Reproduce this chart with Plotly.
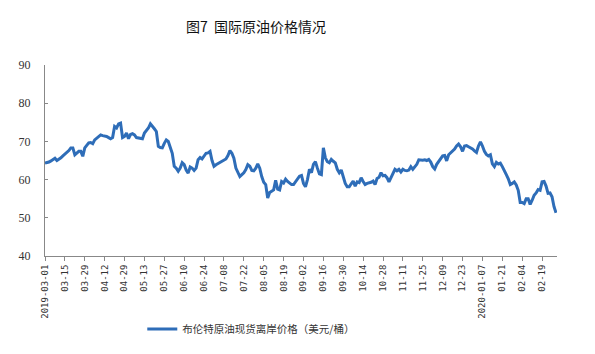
import plotly.graph_objects as go

series_name = "布伦特原油现货离岸价格（美元/桶）"

brent_price = [
    64.3, 64.4, 64.6, 64.9, 65.3, 65.6, 65.0, 65.3, 65.7, 66.2,
    66.6, 67.0, 67.6, 68.3, 68.3, 66.5, 67.0, 67.4, 67.4, 66.1,
    68.3, 69.0, 69.6, 69.7, 69.4, 70.4, 70.8, 71.3, 71.7, 71.5,
    71.4, 71.3, 71.0, 70.7, 71.0, 73.9, 73.5, 74.6, 74.8, 71.0,
    71.3, 72.2, 70.7, 71.8, 72.0, 71.7, 71.0, 70.9, 70.8, 70.7,
    72.2, 72.8, 73.5, 74.6, 73.8, 73.3, 72.6, 68.7, 68.4, 68.3,
    69.5, 70.4, 70.0, 68.5, 66.9, 63.5, 63.0, 62.2, 63.0, 64.4,
    63.9, 62.5, 61.7, 63.3, 63.0, 62.4, 63.0, 65.2, 65.8, 65.4,
    66.2, 66.9, 67.0, 67.4, 65.0, 63.5, 63.9, 64.2, 64.4, 64.8,
    65.0, 65.4, 66.3, 67.6, 66.9, 65.6, 63.0, 62.0, 60.8, 61.3,
    61.8, 62.6, 63.9, 63.5, 62.4, 62.3, 63.0, 64.1, 63.0, 60.8,
    59.3, 58.7, 55.2, 56.6, 57.0, 57.3, 59.8, 57.5, 57.3, 59.5,
    59.1, 60.1, 59.5, 59.1, 58.7, 58.7, 59.5, 60.4, 60.9, 61.1,
    59.0, 58.1, 60.0, 62.7, 61.8, 64.0, 64.7, 63.0, 61.5, 61.3,
    68.3, 65.7, 64.7, 64.4, 65.3, 64.8, 64.4, 62.7, 61.8, 62.5,
    60.5, 59.0, 58.1, 58.1, 58.9, 59.6, 58.3, 59.4, 59.2, 60.5,
    59.5, 58.7, 59.0, 59.1, 59.3, 59.6, 58.7, 60.3, 60.6, 61.8,
    61.0, 61.1, 60.5, 59.4, 60.5, 61.5, 62.7, 62.3, 62.7, 62.0,
    62.7, 62.4, 62.3, 62.5, 63.4, 62.7, 63.5, 64.0, 65.2, 65.1,
    65.1, 65.2, 65.0, 65.3, 64.6, 63.4, 62.8, 64.0, 64.8, 65.4,
    66.2, 66.3, 64.9, 66.5, 67.0, 67.4, 68.0, 68.8, 69.3, 68.6,
    67.4, 68.8, 68.9, 68.6, 68.4, 68.0, 67.5, 67.1, 68.8, 69.9,
    68.8, 67.4, 66.6, 66.2, 66.5, 64.1, 63.4, 64.5, 64.1, 64.3,
    63.4, 62.5, 61.3, 60.2, 58.7, 59.0, 59.4, 58.6, 57.2, 54.0,
    54.0, 53.7, 55.0, 55.0, 53.5, 54.6, 55.9, 56.5, 57.4, 57.2,
    59.4, 59.5, 58.3, 56.4, 56.5, 55.5, 52.9, 51.3,
]

tick_labels = [
    "2019-03-01", "03-15", "03-29", "04-12", "04-29", "05-13", "05-27",
    "06-10", "06-24", "07-08", "07-22", "08-05", "08-19", "09-02", "09-16",
    "09-30", "10-14", "10-28", "11-11", "11-25", "12-09", "12-23",
    "2020-01-07", "01-21", "02-04", "02-19",
]
tick_step = 10

x_idx = list(range(len(brent_price)))
tick_pos = [i * tick_step for i in range(len(tick_labels))]

fig = go.Figure()
fig.add_trace(go.Scatter(
    x=x_idx, y=brent_price, mode="lines", name=series_name,
    line=dict(color="#2E6DB8", width=3),
))

fig.update_layout(
    width=595, height=354,
    margin=dict(l=45, r=38, t=65, b=97),
    paper_bgcolor="white", plot_bgcolor="white",
    title=dict(text="图7  国际原油价格情况", x=256 / 595, xanchor="center",
               y=1 - 27 / 354, yanchor="middle",
               font=dict(family="Noto Sans CJK SC", size=14, color="#111111")),
    showlegend=True,
    legend=dict(orientation="h", x=0.19, xanchor="left", y=-0.375, yanchor="middle",
                font=dict(family="Noto Sans CJK SC", size=10.5, color="#333333"),
                bgcolor="rgba(0,0,0,0)"),
    xaxis=dict(
        range=[0, len(brent_price) - 0.5],
        tickmode="array", tickvals=tick_pos, ticktext=tick_labels,
        tickangle=-90, ticks="outside", ticklen=4, tickcolor="#888888",
        showline=True, linecolor="#888888", linewidth=1,
        showgrid=False, zeroline=False,
        tickfont=dict(family="DejaVu Sans Mono", size=9, color="#333333"),
    ),
    yaxis=dict(
        range=[40, 90], dtick=10, tick0=40,
        ticks="inside", ticklen=3, tickcolor="#888888",
        showline=True, linecolor="#888888", linewidth=1,
        showgrid=False, zeroline=False,
        ticklabelstandoff=11,
        tickfont=dict(family="Liberation Serif", size=12, color="#333333"),
    ),
)

fig.write_html("out.html")
